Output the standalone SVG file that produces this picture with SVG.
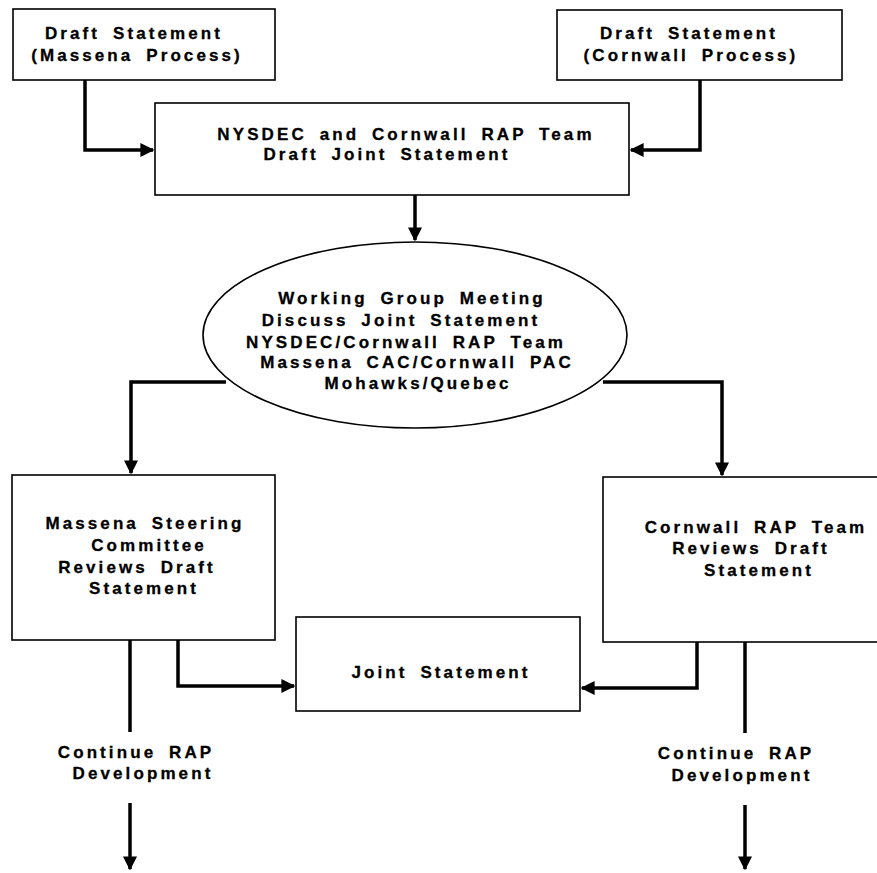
<svg xmlns="http://www.w3.org/2000/svg" width="877" height="873" viewBox="0 0 877 873">
<style>
.box{fill:#fff;stroke:#000;stroke-width:1.6}
.t{font-family:"Liberation Sans",Arial,sans-serif;font-weight:bold;font-size:17px;letter-spacing:3.1px;word-spacing:5px;text-anchor:middle;fill:#000;stroke:#000;stroke-width:0.3}
.c{fill:none;stroke:#000;stroke-width:3.5}
</style>
<defs>
<marker id="ah" viewBox="0 0 10 10" refX="9" refY="5" markerWidth="4" markerHeight="4" orient="auto" markerUnits="strokeWidth">
<path d="M0,0 L10,5 L0,10 z" fill="#000"/>
</marker>
</defs>
<rect width="877" height="873" fill="#fff"/>
<g id="connectors">
<path class="c" d="M85,80 V150 H153" marker-end="url(#ah)"/>
<path class="c" d="M700,80 V150 H631" marker-end="url(#ah)"/>
<path class="c" d="M415,195 V240" marker-end="url(#ah)"/>
<path class="c" d="M226,382 H131 V473" marker-end="url(#ah)"/>
<path class="c" d="M603,382 H722 V475" marker-end="url(#ah)"/>
<path class="c" d="M178,640 V686 H294" marker-end="url(#ah)"/>
<path class="c" d="M697,642 V688 H582" marker-end="url(#ah)"/>
<path class="c" d="M130,640 V732"/>
<path class="c" d="M745,642 V733"/>
<path class="c" d="M130,803 V869" marker-end="url(#ah)"/>
<path class="c" d="M745,805 V869" marker-end="url(#ah)"/>
</g>
<g id="draft-massena">
<rect class="box" x="13" y="9" width="262" height="71"/>
<text class="t" x="134" y="39">Draft Statement</text>
<text class="t" x="137" y="61">(Massena Process)</text>
</g>
<g id="draft-cornwall">
<rect class="box" x="557" y="10" width="285" height="70"/>
<text class="t" x="689" y="39">Draft Statement</text>
<text class="t" x="691" y="61">(Cornwall Process)</text>
</g>
<g id="nysdec">
<rect class="box" x="155" y="103" width="474" height="92"/>
<text class="t" x="406" y="140">NYSDEC and Cornwall RAP Team</text>
<text class="t" x="387" y="160">Draft Joint Statement</text>
</g>
<g id="working-group">
<ellipse class="box" cx="415" cy="335" rx="212" ry="93"/>
<text class="t" x="412" y="304">Working Group Meeting</text>
<text class="t" x="401" y="326">Discuss Joint Statement</text>
<text class="t" x="406" y="348">NYSDEC/Cornwall RAP Team</text>
<text class="t" x="417" y="368">Massena CAC/Cornwall PAC</text>
<text class="t" x="418" y="389">Mohawks/Quebec</text>
</g>
<g id="massena-steering">
<rect class="box" x="12" y="475" width="263" height="165"/>
<text class="t" x="145" y="529">Massena Steering</text>
<text class="t" x="149" y="551">Committee</text>
<text class="t" x="137" y="573">Reviews Draft</text>
<text class="t" x="144" y="594">Statement</text>
</g>
<g id="cornwall-reviews">
<rect class="box" x="603" y="477" width="290" height="165"/>
<text class="t" x="756" y="533">Cornwall RAP Team</text>
<text class="t" x="751" y="554">Reviews Draft</text>
<text class="t" x="759" y="576">Statement</text>
</g>
<g id="joint-statement">
<rect class="box" x="296" y="617" width="284" height="94"/>
<text class="t" x="441" y="678">Joint Statement</text>
</g>
<g id="continue-left">
<text class="t" x="136" y="758">Continue RAP</text>
<text class="t" x="143" y="779">Development</text>
</g>
<g id="continue-right">
<text class="t" x="736" y="759">Continue RAP</text>
<text class="t" x="742" y="781">Development</text>
</g>
</svg>
